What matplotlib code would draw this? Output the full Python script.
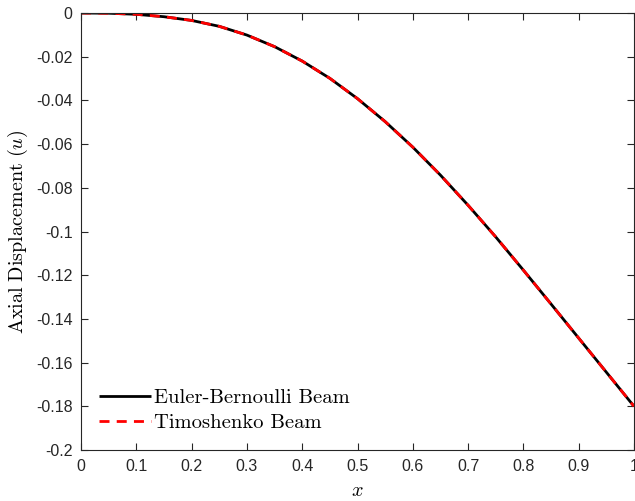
import numpy as np
import matplotlib
matplotlib.use("Agg")
import matplotlib.pyplot as plt
from matplotlib.ticker import FixedLocator

# Data
x_vals = [0.0, 0.05, 0.1, 0.15, 0.2, 0.25, 0.3, 0.35, 0.4, 0.45, 0.5,
          0.55, 0.6, 0.65, 0.7, 0.75, 0.8, 0.85, 0.9, 0.95, 1.0]
u_euler = [0.0, -0.0001, -0.0006, -0.0017, -0.0034, -0.0061, -0.0101, -0.0154,
           -0.0220, -0.0299, -0.0392, -0.0497, -0.0614, -0.0742, -0.0880,
           -0.1025, -0.1177, -0.1332, -0.1488, -0.1644, -0.1800]
u_timo = [0.0, -0.0001, -0.0006, -0.0017, -0.0034, -0.0061, -0.0101, -0.0154,
          -0.0220, -0.0299, -0.0392, -0.0497, -0.0614, -0.0742, -0.0880,
          -0.1025, -0.1177, -0.1332, -0.1488, -0.1644, -0.1800]
x_ticks = [0, 0.1, 0.2, 0.3, 0.4, 0.5, 0.6, 0.7, 0.8, 0.9, 1.0]
x_tick_labels = ['0', '0.1', '0.2', '0.3', '0.4', '0.5', '0.6', '0.7', '0.8', '0.9', '1']
y_ticks = [0, -0.02, -0.04, -0.06, -0.08, -0.1, -0.12, -0.14, -0.16, -0.18, -0.2]
y_tick_labels = ['0', '-0.02', '-0.04', '-0.06', '-0.08', '-0.1', '-0.12', '-0.14', '-0.16', '-0.18', '-0.2']
series_labels = ['Euler-Bernoulli Beam', 'Timoshenko Beam']

plt.rcParams['mathtext.fontset'] = 'cm'
plt.rcParams['axes.unicode_minus'] = False
plt.rcParams['font.family'] = ['Liberation Sans', 'DejaVu Sans']

fig = plt.figure(figsize=(6.35, 5.01), dpi=100)
ax = fig.add_axes([81/635, 51/501, 553/635, 437/501])

dark = (0.15, 0.15, 0.15)
ax.plot(x_vals, u_euler, color='black', lw=2.0, solid_capstyle='butt',
        label=series_labels[0])
ax.plot(x_vals, u_timo, color='red', lw=2.0, dashes=(3.6, 2.6),
        label=series_labels[1])

ax.set_xlim(0, 1)
ax.set_ylim(-0.2, 0)
ax.xaxis.set_major_locator(FixedLocator(x_ticks))
ax.set_xticklabels(x_tick_labels)
ax.yaxis.set_major_locator(FixedLocator(y_ticks))
ax.set_yticklabels(y_tick_labels)

ax.tick_params(direction='in', length=5, width=0.8, colors=dark, labelsize=11.5,
               top=True, right=True)
ax.tick_params(axis='x', pad=6.5)
ax.tick_params(axis='y', pad=6)
for s in ax.spines.values():
    s.set_color(dark)
    s.set_linewidth(0.8)

ax.set_xlabel(r'$x$', fontsize=14.5, labelpad=5)
ax.set_ylabel(r'$\mathrm{Axial\ Displacement}\ (u)$', fontsize=14.5, labelpad=4)

leg = ax.legend(loc='lower left', frameon=False, prop={'family': 'cmr10', 'size': 14.8},
                handlelength=2.54, handletextpad=0.14, labelspacing=0.34,
                borderaxespad=0.28, bbox_to_anchor=(0.0073, 0.009))

fig.savefig('out.png', dpi=100)
